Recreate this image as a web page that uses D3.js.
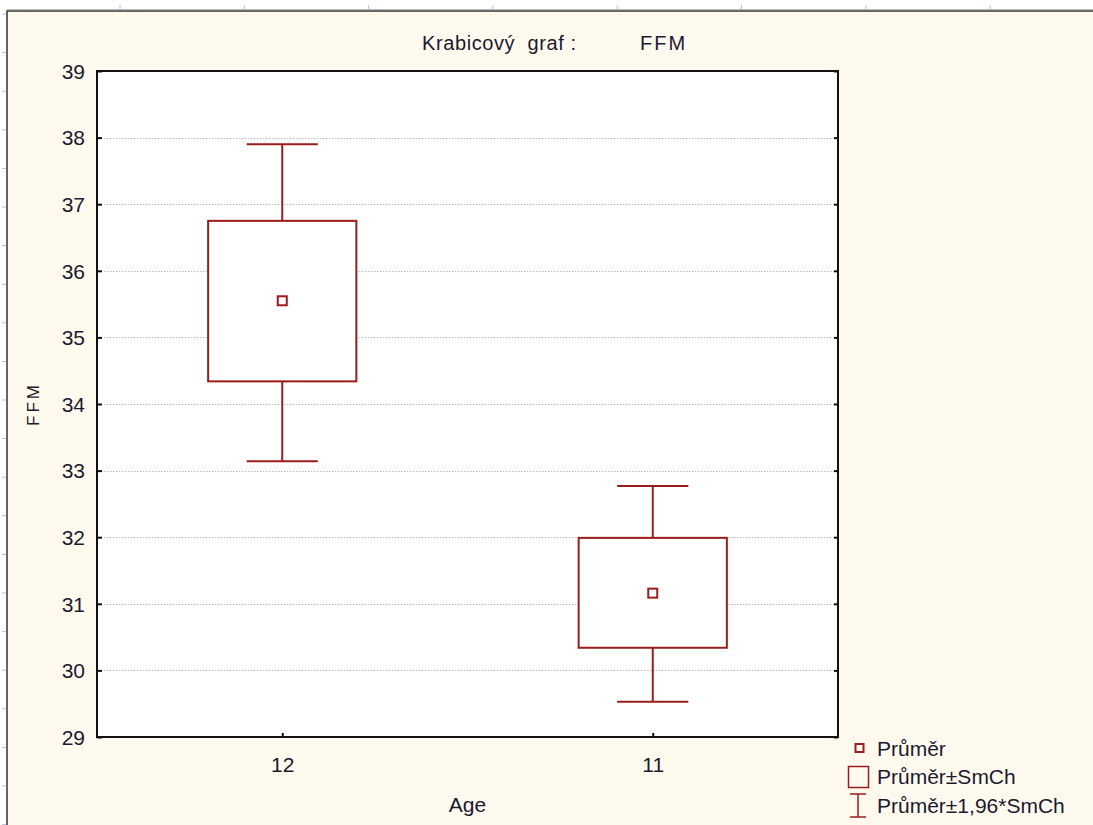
<!DOCTYPE html>
<html>
<head>
<meta charset="utf-8">
<script src="https://cdn.jsdelivr.net/npm/d3@7"></script>
<style>
  html, body { margin: 0; padding: 0; background: #fff; }
  svg { display: block; }
  text { font-family: "Liberation Sans", Arial, sans-serif; fill: #1a1a30; }
</style>
</head>
<body>
<svg></svg>
<script>
// hodnoty
const categories = ["12", "11"];
const means = [35.55, 31.16];
const boxLow = [34.34, 30.34];
const boxHigh = [36.75, 31.99];
const whiskLow = [33.14, 29.53];
const whiskHigh = [37.90, 32.77];
const yTicks = [29, 30, 31, 32, 33, 34, 35, 36, 37, 38, 39];
const legendLabels = ["Průměr", "Průměr±SmCh", "Průměr±1,96*SmCh"];

const width = 1093;
const height = 825;
const plot = {left: 97, right: 838, top: 71, bottom: 737};
const red = "#9a1c1c";

let svg = d3.select("svg")
  .attr("width", width)
  .attr("height", height);

// okno - pravítko a rámeček
svg.append("rect")
  .attr("x", 7).attr("y", 11)
  .attr("width", width).attr("height", height)
  .attr("fill", "#fff9ee")
  .attr("stroke", "#333")
  .attr("stroke-width", 1.5);
svg.append("line")
  .attr("x1", 7).attr("x2", width).attr("y1", 10).attr("y2", 10)
  .attr("stroke", "#777").attr("stroke-width", 1);

let rulerTop = d3.range(120, width, 124.3);
svg.selectAll(".rt").data(rulerTop).enter().append("line")
  .attr("x1", d => d).attr("x2", d => d)
  .attr("y1", 5).attr("y2", 9)
  .attr("stroke", "#b8c0d8");
let rulerLeft = d3.range(14, height, 38.6);
svg.selectAll(".rl").data(rulerLeft).enter().append("line")
  .attr("x1", 2).attr("x2", 6)
  .attr("y1", d => d).attr("y2", d => d)
  .attr("stroke", "#b8c0d8");

// škály
let scX = d3.scalePoint()
  .domain(categories)
  .range([plot.left, plot.right])
  .padding(0.5);
let scY = d3.scaleLinear()
  .domain([29, 39])
  .range([plot.bottom, plot.top]);
const step = scX.step();
const boxW = step * 0.4;
const capW = boxW * 0.48;

// plocha grafu
svg.append("rect")
  .attr("x", plot.left).attr("y", plot.top)
  .attr("width", plot.right - plot.left)
  .attr("height", plot.bottom - plot.top)
  .attr("fill", "#fff");

// mřížka
svg.selectAll(".grid").data(yTicks.slice(1, -1)).enter().append("line")
  .attr("x1", plot.left + 4).attr("x2", plot.right - 4)
  .attr("y1", d => Math.round(scY(d)) + 0.5)
  .attr("y2", d => Math.round(scY(d)) + 0.5)
  .attr("stroke", "#bdbdbd")
  .attr("stroke-dasharray", "1.5,1.5");

// osy
let axisL = d3.axisLeft(scY).tickValues(yTicks).tickSize(-5).tickPadding(12);
let gL = svg.append("g")
  .attr("transform", `translate(${plot.left}, 0)`)
  .call(axisL);
gL.select(".domain").remove();
gL.selectAll("text").style("font-size", "21px").attr("dy", "0.35em");

let axisR = d3.axisRight(scY).tickValues(yTicks).tickSize(-4).tickFormat("");
let gR = svg.append("g")
  .attr("transform", `translate(${plot.right}, 0)`)
  .call(axisR);
gR.select(".domain").remove();

let axisB = d3.axisBottom(scX).tickSize(-4).tickPadding(20);
let gB = svg.append("g")
  .attr("transform", `translate(0, ${plot.bottom})`)
  .call(axisB);
gB.select(".domain").remove();
gB.selectAll("text").style("font-size", "21px");

svg.selectAll(".tick line").attr("stroke", "#111").attr("stroke-width", 2);

svg.append("rect")
  .attr("x", plot.left).attr("y", plot.top)
  .attr("width", plot.right - plot.left)
  .attr("height", plot.bottom - plot.top)
  .attr("fill", "none")
  .attr("stroke", "#111")
  .attr("stroke-width", 2);

// krabice
let groups = svg.selectAll(".box").data(categories).enter().append("g").attr("class", "box");

groups.append("line")
  .attr("x1", d => scX(d)).attr("x2", d => scX(d))
  .attr("y1", (d, i) => scY(whiskHigh[i])).attr("y2", (d, i) => scY(whiskLow[i]))
  .attr("stroke", red).attr("stroke-width", 2);
groups.append("line")
  .attr("x1", d => scX(d) - capW / 2).attr("x2", d => scX(d) + capW / 2)
  .attr("y1", (d, i) => scY(whiskHigh[i])).attr("y2", (d, i) => scY(whiskHigh[i]))
  .attr("stroke", red).attr("stroke-width", 2);
groups.append("line")
  .attr("x1", d => scX(d) - capW / 2).attr("x2", d => scX(d) + capW / 2)
  .attr("y1", (d, i) => scY(whiskLow[i])).attr("y2", (d, i) => scY(whiskLow[i]))
  .attr("stroke", red).attr("stroke-width", 2);
groups.append("rect")
  .attr("x", d => scX(d) - boxW / 2)
  .attr("width", boxW)
  .attr("y", (d, i) => scY(boxHigh[i]))
  .attr("height", (d, i) => scY(boxLow[i]) - scY(boxHigh[i]))
  .attr("fill", "#fff")
  .attr("stroke", red).attr("stroke-width", 2);
groups.append("rect")
  .attr("x", d => scX(d) - 4.5)
  .attr("y", (d, i) => scY(means[i]) - 4.5)
  .attr("width", 9).attr("height", 9)
  .attr("fill", "#fff")
  .attr("stroke", red).attr("stroke-width", 2);

// popisky
svg.append("text")
  .attr("x", 422).attr("y", 50)
  .style("font-size", "20px")
  .style("letter-spacing", "0.6px")
  .style("white-space", "pre")
  .text("Krabicový  graf :");
svg.append("text")
  .attr("x", 640).attr("y", 50)
  .style("font-size", "20px")
  .style("letter-spacing", "2px")
  .text("FFM");

svg.append("text")
  .attr("x", (plot.left + plot.right) / 2).attr("y", 812)
  .attr("text-anchor", "middle")
  .style("font-size", "21px")
  .text("Age");

svg.append("text")
  .attr("transform", "translate(39, 404) rotate(-90)")
  .attr("text-anchor", "middle")
  .style("font-size", "17px")
  .style("letter-spacing", "3px")
  .text("FFM");

// legenda
let leg = svg.selectAll(".leg").data(legendLabels).enter().append("g")
  .attr("transform", (d, i) => `translate(850, ${748 + i * 28.5})`);
leg.append("text")
  .attr("x", 27).attr("dy", "0.36em")
  .style("font-size", "21px")
  .text(d => d);

d3.select(leg.nodes()[0]).append("rect")
  .attr("x", 5.5).attr("y", -4).attr("width", 8).attr("height", 8)
  .attr("fill", "none").attr("stroke", red).attr("stroke-width", 2);
d3.select(leg.nodes()[1]).append("rect")
  .attr("x", -1.5).attr("y", -10).attr("width", 20).attr("height", 21)
  .attr("fill", "none").attr("stroke", red).attr("stroke-width", 1.5);
let ibar = d3.select(leg.nodes()[2]);
ibar.append("line").attr("x1", 8).attr("x2", 8).attr("y1", -11).attr("y2", 12)
  .attr("stroke", red).attr("stroke-width", 1.5);
ibar.append("line").attr("x1", 0).attr("x2", 16).attr("y1", -11).attr("y2", -11)
  .attr("stroke", red).attr("stroke-width", 1.5);
ibar.append("line").attr("x1", 0).attr("x2", 16).attr("y1", 12).attr("y2", 12)
  .attr("stroke", red).attr("stroke-width", 1.5);
</script>
</body>
</html>
